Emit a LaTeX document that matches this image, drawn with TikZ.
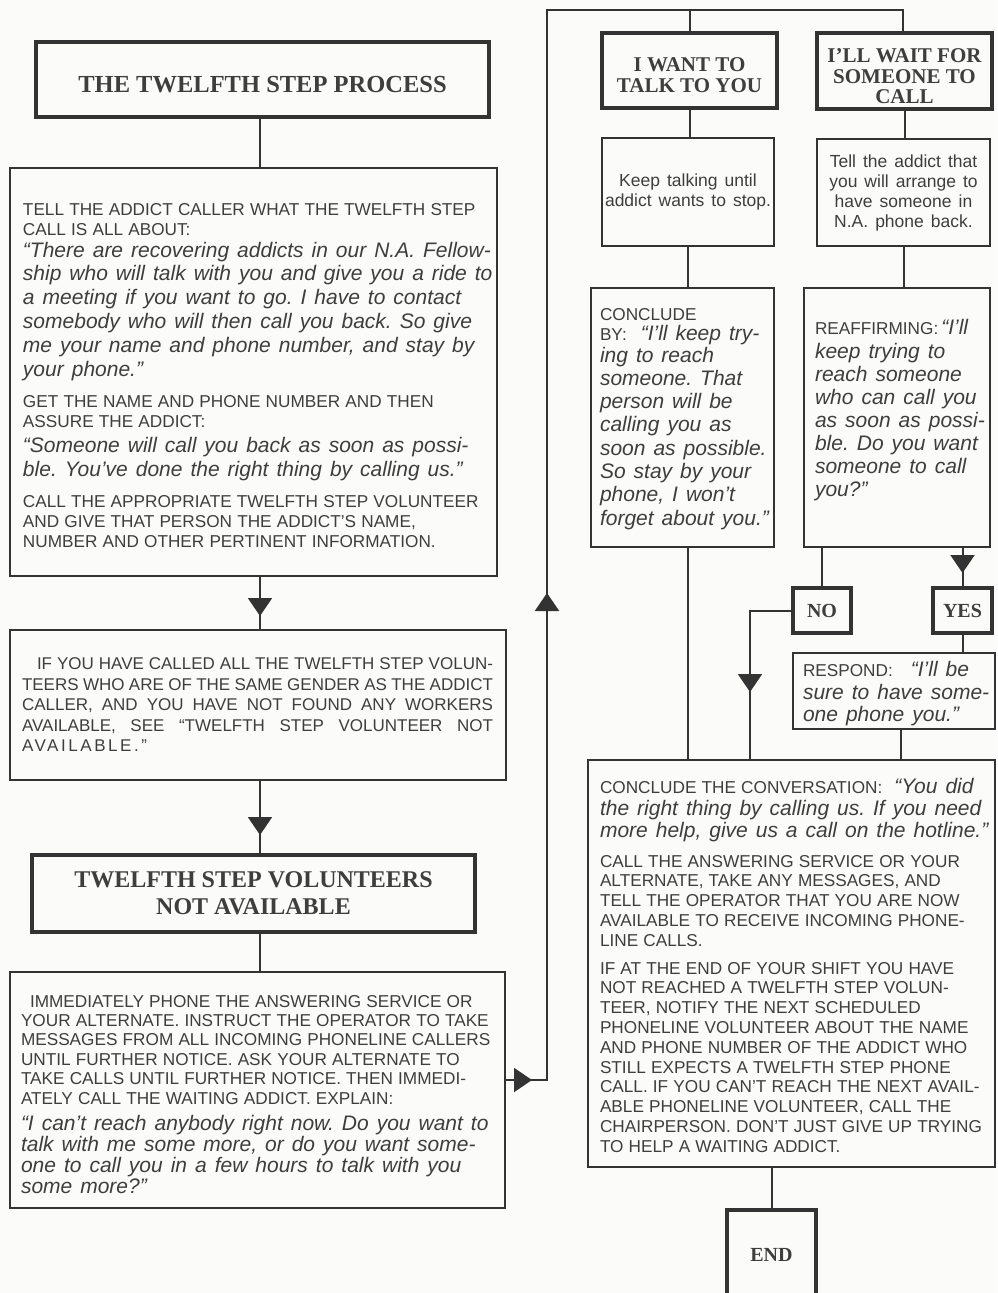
\documentclass[tikz,border=0pt]{standalone}
\usepackage{fontspec}
\setmainfont{Liberation Serif}
\setsansfont{Liberation Sans}
\usetikzlibrary{arrows.meta,decorations.markings}
\definecolor{ink}{HTML}{333333}
\definecolor{txtc}{HTML}{3E3E3E}
\definecolor{bg}{HTML}{FBFBF9}
\newcommand\fsz[2]{\fontsize{#1}{#2}\selectfont}
\newcommand\UC[2]{\fontsize{#1}{#2}\selectfont\upshape\frenchspacing\spaceskip=0.30em\relax}
\newcommand\IT[2]{\fontsize{#1}{#2}\selectfont\itshape\frenchspacing\spaceskip=0.38em\relax}
\newcommand\wsp{\spaceskip=0.4em\relax}
\newcommand\jsp{\spaceskip=0.3em plus 1em minus 0.05em\relax}
\begin{document}
\begin{tikzpicture}[x=1pt,y=-1pt,
  box/.style={draw=ink, line width=2.2pt, inner sep=0pt, outer sep=0pt, anchor=north west, rectangle},
  hbox/.style={box, line width=4.5pt, font=\bfseries, text=txtc, align=center},
  sbox/.style={box, font=\sffamily, text=txtc, align=center},
  htxt/.style={inner sep=0pt, outer sep=0pt, align=center, text=txtc},
  txt/.style={inner sep=0pt, outer sep=0pt, anchor=north west, align=left, font=\sffamily, text=txtc},
  conn/.style={draw=ink, line width=2pt},
  tri/.style={postaction={decorate,decoration={markings,mark=at position #1 with {\arrow{Triangle[width=24pt,length=18pt]}}}}},
]
\useasboundingbox (0,0) rectangle (997,1293);
\clip (0,0) rectangle (997,1293);
\fill[bg] (0,0) rectangle (997,1293);

% ---------- coordinates for connector routes
\coordinate (sp) at (260,0);
\coordinate (lb) at (547,1080);
\coordinate (lt) at (547,10);
\coordinate (tr) at (903,10);
\coordinate (nb) at (750,0);
\coordinate (rx) at (901,0);

% ---------- left column
\node[hbox, minimum width=453pt, minimum height=75pt] (title) at (36,42) {};
\node[htxt, font=\bfseries\fsz{24.5}{28}] (ttitle) at ([yshift=-5pt]title.center) {THE TWELFTH STEP PROCESS};

\node[box, minimum width=487pt, minimum height=408pt] (b2) at (10,168) {};
\node[txt, text width=490pt] (t2) at (23,203) {%
\UC{17.2}{20}TELL THE ADDICT CALLER WHAT THE TWELFTH STEP\\
CALL IS ALL ABOUT:\\[-1.8pt]
\IT{21}{23.8}“There are recovering addicts in our N.A. Fellow-\\
ship who will talk with you and give you a ride to\\
a meeting if you want to go. I have to contact\\
somebody who will then call you back. So give\\
me your name and phone number, and stay by\\
your phone.”\\[11.3pt]
\UC{17.2}{20}GET THE NAME AND PHONE NUMBER AND THEN\\
ASSURE THE ADDICT:\\[1.7pt]
\IT{21}{23.8}“Someone will call you back as soon as possi-\\
ble. You’ve done the right thing by calling us.”\\[10.7pt]
\UC{17.2}{20}CALL THE APPROPRIATE TWELFTH STEP VOLUNTEER\\
AND GIVE THAT PERSON THE ADDICT’S NAME,\\
NUMBER AND OTHER PERTINENT INFORMATION.\par};

\node[box, minimum width=496pt, minimum height=150pt] (b3) at (10,630) {};
\node[txt, text width=475pt] (t3) at (22,658) {\fsz{17}{20.5}\jsp
\makebox[471pt][s]{\hspace*{15pt}IF YOU HAVE CALLED ALL THE TWELFTH STEP VOLUN-}\\
\makebox[471pt][s]{TEERS WHO ARE OF THE SAME GENDER AS THE ADDICT}\\
\makebox[471pt][s]{CALLER, AND YOU HAVE NOT FOUND ANY WORKERS}\\
\makebox[471pt][s]{AVAILABLE, SEE “TWELFTH STEP VOLUNTEER NOT}\\
{\addfontfeature{LetterSpace=15}AVAILABLE.”}\par};

\node[hbox, minimum width=443pt, minimum height=77pt] (b4) at (32,855) {};
\node[htxt, font=\bfseries\fsz{24}{27}] (t4) at (b4.center) {TWELFTH STEP VOLUNTEERS\\NOT AVAILABLE};

\node[box, minimum width=495pt, minimum height=236pt] (b5) at (10,972) {};
\node[txt, text width=490pt] (t5) at (21,995) {\UC{17.2}{19.4}%
\hspace*{9pt}IMMEDIATELY PHONE THE ANSWERING SERVICE OR\\
YOUR ALTERNATE. INSTRUCT THE OPERATOR TO TAKE\\
MESSAGES FROM ALL INCOMING PHONELINE CALLERS\\
UNTIL FURTHER NOTICE. ASK YOUR ALTERNATE TO\\
TAKE CALLS UNTIL FURTHER NOTICE. THEN IMMEDI-\\
ATELY CALL THE WAITING ADDICT. EXPLAIN:\\[5.1pt]
\IT{21}{21.2}“I can’t reach anybody right now. Do you want to\\
talk with me some more, or do you want some-\\
one to call you in a few hours to talk with you\\
some more?”\par};

% ---------- right column
\node[hbox, minimum width=175pt, minimum height=75pt] (b6) at (602,33) {};
\node[htxt, font=\bfseries\fsz{21}{21}] (t6) at ([yshift=-5pt]b6.center) {I WANT TO\\TALK TO YOU};

\node[hbox, minimum width=175pt, minimum height=76pt] (b7) at (817,33) {};
\node[htxt, font=\bfseries\fsz{21}{20.5}] (t7) at ([yshift=-5.5pt]b7.center) {I’LL WAIT FOR\\SOMEONE TO\\CALL};

\node[sbox, minimum width=172pt, minimum height=108pt, font={\sffamily\fsz{17.5}{19.5}\wsp}] (b8) at (602,138) {Keep talking until\\addict wants to stop.};
\node[sbox, minimum width=173pt, minimum height=107pt, font={\sffamily\fsz{17.5}{20}\wsp}] (b9) at (817,139) {Tell the addict that\\you will arrange to\\have someone in\\N.A. phone back.};

\node[box, minimum width=183pt, minimum height=259pt] (b10) at (591,288) {};
\node[txt, text width=185pt] (t10) at (600,308) {%
\UC{17.2}{20}CONCLUDE\\[-3.3pt]
\IT{21}{23.3}{\UC{17.2}{20}BY:}\hspace{14pt}“I’ll keep try-\\[-1.3pt]
ing to reach\\
someone. That\\
person will be\\
calling you as\\
soon as possible.\\
So stay by your\\
phone, I won’t\\
forget about you.”\par};

\node[box, minimum width=186pt, minimum height=259pt] (b11) at (804,288) {};
\node[txt, text width=180pt] (t11) at (815,319.7) {%
\IT{21}{23.1}{\UC{17.2}{20}REAFFIRMING:}\hspace{3pt}“I’ll\\
keep trying to\\
reach someone\\
who can call you\\
as soon as possi-\\
ble. Do you want\\
someone to call\\
you?”\par};

\node[hbox, line width=4pt, minimum width=58pt, minimum height=45pt, font=\bfseries\fsz{20}{22}] (no) at (793,588) {NO};
\node[hbox, line width=4pt, minimum width=59pt, minimum height=45pt, font=\bfseries\fsz{20}{22}] (yes) at (933,588) {YES};

\node[box, minimum width=202pt, minimum height=76pt] (resp) at (793,653) {};
\node[txt, text width=195pt] (tresp) at (803,661.7) {%
\IT{21}{22.5}{\UC{17.2}{20}RESPOND:}\hspace{18pt}“I’ll be\\
sure to have some-\\
one phone you.”\par};

\node[box, minimum width=407pt, minimum height=407pt] (b13) at (588,760) {};
\node[txt, text width=400pt] (t13) at (600,778) {%
\IT{21}{22}{\UC{17.2}{20}CONCLUDE THE CONVERSATION:}\hspace{12pt}“You did\\
the right thing by calling us. If you need\\
more help, give us a call on the hotline.”\\[10pt]
\UC{17.2}{19.8}CALL THE ANSWERING SERVICE OR YOUR\\
ALTERNATE, TAKE ANY MESSAGES, AND\\
TELL THE OPERATOR THAT YOU ARE NOW\\
AVAILABLE TO RECEIVE INCOMING PHONE-\\
LINE CALLS.\\[8pt]
IF AT THE END OF YOUR SHIFT YOU HAVE\\
NOT REACHED A TWELFTH STEP VOLUN-\\
TEER, NOTIFY THE NEXT SCHEDULED\\
PHONELINE VOLUNTEER ABOUT THE NAME\\
AND PHONE NUMBER OF THE ADDICT WHO\\
STILL EXPECTS A TWELFTH STEP PHONE\\
CALL. IF YOU CAN’T REACH THE NEXT AVAIL-\\
ABLE PHONELINE VOLUNTEER, CALL THE\\
CHAIRPERSON. DON’T JUST GIVE UP TRYING\\
TO HELP A WAITING ADDICT.\par};

\node[hbox, minimum width=89pt, minimum height=90pt, font=\bfseries\fsz{20}{22}] (end) at (727,1210) {END};

% ---------- connectors
\draw[conn] (title.south -| sp) -- (b2.north -| sp);
\draw[conn, tri=40pt] (b2.south -| sp) -- (b3.north -| sp);
\draw[conn, tri=55pt] (b3.south -| sp) -- (b4.north -| sp);
\draw[conn] (b4.south -| sp) -- (b5.north -| sp);
\draw[conn, tri=27pt, tri=529pt] (b5.east |- lb) -- (lb) -- (lt) -- (tr) -- (tr |- b7.north);
\draw[conn] (b6.north |- lt) -- (b6.north);
\draw[conn] (b6.south) -- (b6.south |- b8.north);
\draw[conn] (b8.south) -- (b8.south |- b10.north);
\draw[conn] (b8.south |- b10.south) -- (b8.south |- b13.north);
\draw[conn] (b7.south) -- (b7.south |- b9.north);
\draw[conn] (b9.south) -- (b9.south |- b11.north);
\draw[conn] (no.north |- b11.south) -- (no.north);
\draw[conn, tri=26pt] (yes.north |- b11.south) -- (yes.north);
\draw[conn, tri=124.5pt] (no.west) -- (no.west -| nb) -- (nb |- b13.north);
\draw[conn] (yes.south) -- (yes.south |- resp.north);
\draw[conn] (resp.south -| rx) -- (b13.north -| rx);
\draw[conn] (end.north |- b13.south) -- (end.north);
\end{tikzpicture}
\end{document}
